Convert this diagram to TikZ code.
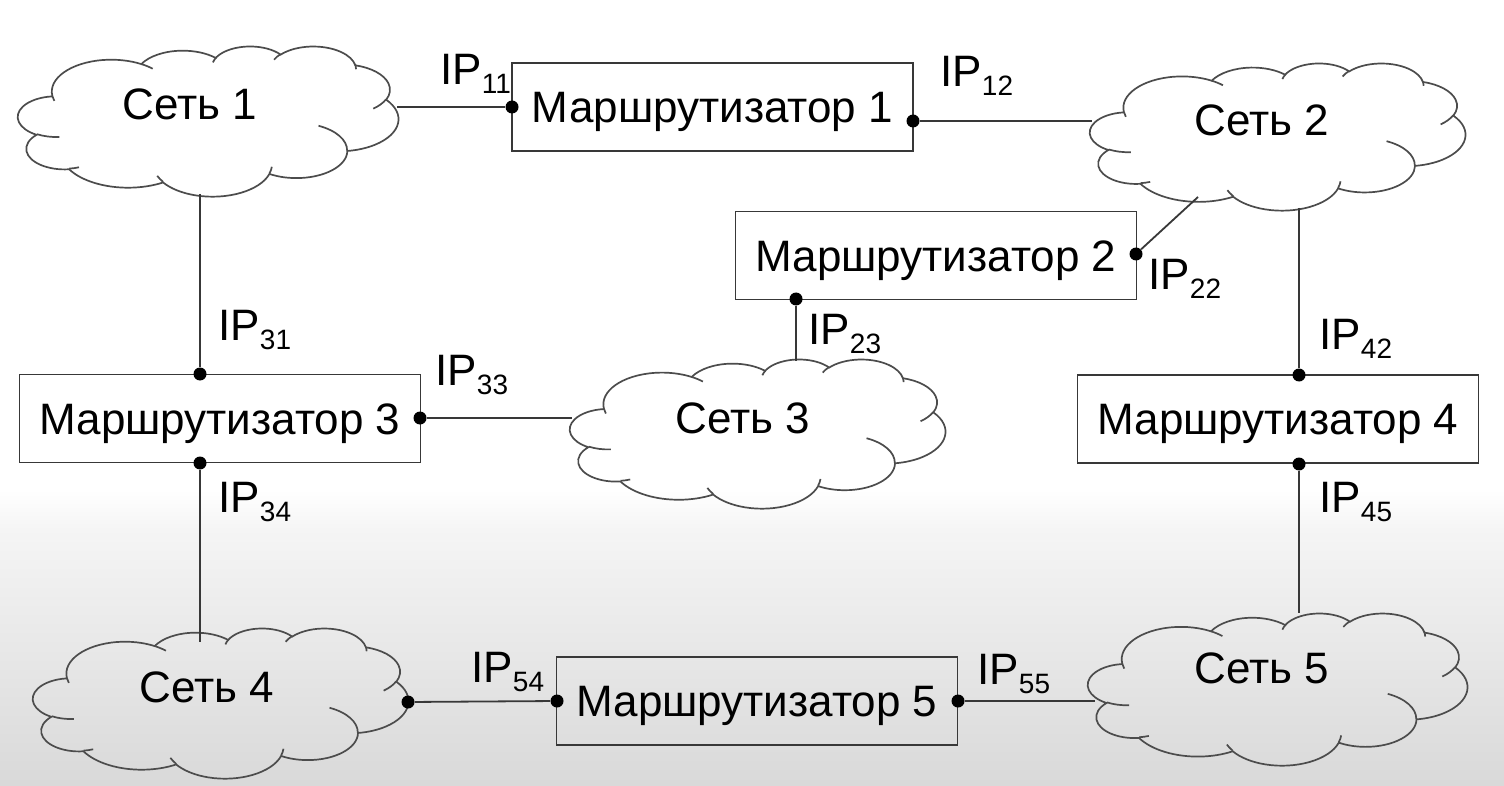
\documentclass[tikz,border=0pt]{standalone}
\usepackage{fontspec}
\setmainfont{Liberation Sans}
\newcommand\varc[4]{arc[start angle={atan2((#1)*sin(#3),(#2)*cos(#3))}, delta angle={mod(atan2((#1)*sin((#3)+(#4)),(#2)*cos((#3)+(#4)))-atan2((#1)*sin(#3),(#2)*cos(#3))+720,360)}, x radius=#1, y radius=#2]}
\newcommand\netcloud[4]{%
  \begin{scope}[shift={(#1,#2)}, x=#3*0.005pt, y=-#4*0.005pt]
    \draw[cloudline] (9.028,33.264)
      \varc{15.632}{21.273}{-190.4875}{123.7805}
      \varc{12.345}{16.822}{-144.1024}{89.9452}
      \varc{10.104}{13.762}{-145.8079}{99.7230}
      \varc{11.243}{15.266}{-130.9861}{117.2417}
      \varc{12.345}{16.836}{-78.7089}{109.0269}
      \varc{15.683}{21.343}{-46.2673}{130.2690}
      \varc{13.391}{18.211}{0.6250}{114.0333}
      \varc{15.630}{21.331}{22.4516}{115.1726}
      \varc{17.870}{24.405}{66.2426}{75.7110}
      \varc{10.093}{13.699}{-274.9421}{146.7356}
      \varc{10.058}{13.762}{-246.8285}{152.5189}
      -- cycle;
    \draw[cloudline]
      (10.863,60.595) \varc{10.058}{13.762}{86.742}{26.4295}
      (16.037,80.785) \varc{10.093}{13.699}{73.6105}{11.4475}
      (38.144,90.486) \varc{15.630}{21.331}{137.6242}{14.0811}
      (66.729,80.442) \varc{15.630}{21.331}{6.4533}{15.9984}
      (79.002,53.134) \varc{13.391}{18.211}{-70.2924}{70.9174}
      (96.755,35.542) \varc{12.345}{16.836}{30.3180}{27.7515}
      (88.713,12.560) \varc{11.243}{15.266}{-13.7443}{14.8589}
      (67.310,9.148) \varc{11.243}{15.266}{-149.1815}{18.1954}
      (51.252,10.926) \varc{10.104}{13.762}{-163.4943}{17.6864}
      (32.407,12.019) \varc{15.632}{21.273}{-66.7070}{12.3194}
      (9.553,36.549) \varc{15.632}{21.273}{157.6544}{11.8582};
  \end{scope}}
\newcommand\ipl[1]{IP\raisebox{-4.5pt}{\fontsize{14}{16}\selectfont #1}}
\begin{document}
\begin{tikzpicture}[x=0.5pt, y=-0.5pt,
  wire/.style={draw=black!78, line width=0.9pt},
  cloudline/.style={draw=black!70, line width=0.85pt},
  router/.style={wire, rectangle, minimum width=200.5pt, minimum height=44pt, inner sep=0pt, font=\fontsize{22}{26}\selectfont, text height=15.8pt, text depth=0pt},
  nettext/.style={inner sep=0pt, font=\fontsize{22}{26}\selectfont, text height=15.8pt, text depth=0pt},
  iplabel/.style={inner sep=0pt, anchor=base west, font=\fontsize{22}{26}\selectfont},
  dot/.style={circle, fill=black, inner sep=0pt, minimum size=6.5pt}]
\useasboundingbox (0,0) rectangle (1504,786);
\fill[white] (0,0) rectangle (1504,786);
\shade[top color=white, bottom color=black!4] (0,490) rectangle (1504,530);
\shade[top color=black!4, bottom color=black!15] (0,529.5) rectangle (1504,786);

% clouds
\netcloud{18}{46}{380}{150}
\netcloud{1090}{63}{375}{147}
\netcloud{570}{359}{375}{149}
\netcloud{33}{628}{375}{150}
\netcloud{1088}{613}{379}{152}
\node[nettext] (net1) at (190,104) {Сеть 1};
\node[nettext] (net2) at (1262,120) {Сеть 2};
\node[nettext] (net3) at (743,418) {Сеть 3};
\node[nettext] (net4) at (207,687) {Сеть 4};
\node[nettext] (net5) at (1262,668) {Сеть 5};

% routers
\node[router] (r1) at (712.5,107) {Маршрутизатор 1};
\node[router] (r2) at (936,255.5) {Маршрутизатор 2};
\node[router] (r3) at (220,418.5) {Маршрутизатор 3};
\node[router] (r4) at (1278,419) {Маршрутизатор 4};
\node[router] (r5) at (757,701) {Маршрутизатор 5};

% attach points on clouds
\coordinate (c1e) at (397,107);
\coordinate (c1s) at (200,194);
\coordinate (c2w) at (1092,121);
\coordinate (c2d) at (1198,197);
\coordinate (c2s) at (1299,208);
\coordinate (c3n) at (796,361);
\coordinate (c3w) at (572,418);
\coordinate (c4n) at (200,642);
\coordinate (c5w) at (1095,701);
\coordinate (c5n) at (1299,613);

% dots
\node[dot] (d11) at (512,107) {};
\node[dot] (d12) at (913,121) {};
\node[dot] (d22) at (1136,254) {};
\node[dot] (d23) at (796,299) {};
\node[dot] (d31) at (200,374) {};
\node[dot] (d33) at (420,418) {};
\node[dot] (d34) at (200,463) {};
\node[dot] (d42) at (1299,375) {};
\node[dot] (d45) at (1299,464) {};
\node[dot] (d4e) at (408,702) {};
\node[dot] (d54) at (557,701) {};
\node[dot] (d55) at (958,701) {};

% connectors
\draw[wire] (c1e) -- (d11);
\draw[wire] (d12) -- (c2w);
\draw[wire] (d22) -- (c2d);
\draw[wire] (d23) -- (c3n);
\draw[wire] (c1s) -- (d31);
\draw[wire] (d33) -- (c3w);
\draw[wire] (d34) -- (c4n);
\draw[wire] (c2s) -- (d42);
\draw[wire] (d45) -- (c5n);
\draw[wire] (d4e) -- (d54);
\draw[wire] (d55) -- (c5w);

% labels
\node[iplabel] (l11) at (440,85) {\ipl{11}};
\node[iplabel] (l12) at (940,87) {\ipl{12}};
\node[iplabel] (l22) at (1148,290) {\ipl{22}};
\node[iplabel] (l23) at (808,344) {\ipl{23}};
\node[iplabel] (l31) at (218,340) {\ipl{31}};
\node[iplabel] (l33) at (435,385) {\ipl{33}};
\node[iplabel] (l34) at (218,512) {\ipl{34}};
\node[iplabel] (l42) at (1319,350) {\ipl{42}};
\node[iplabel] (l45) at (1319,512) {\ipl{45}};
\node[iplabel] (l54) at (471,682) {\ipl{54}};
\node[iplabel] (l55) at (977,684) {\ipl{55}};
\end{tikzpicture}
\end{document}
